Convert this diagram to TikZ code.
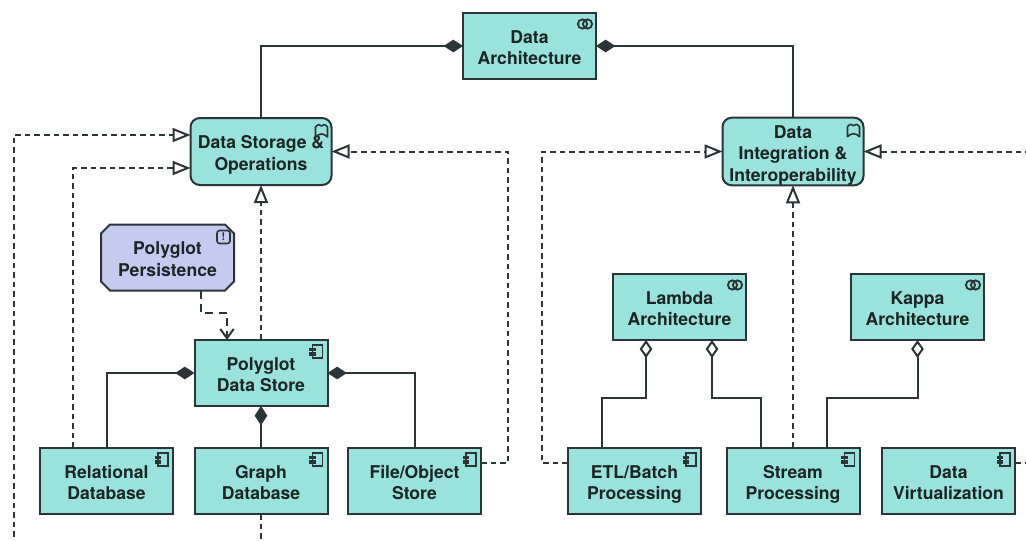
\documentclass[tikz,border=0pt]{standalone}
\usepackage{fontspec}
\setmainfont{TeX Gyre Heros}
\usetikzlibrary{arrows.meta,calc,shapes.misc}
\definecolor{teal}{HTML}{99E3DC}
\definecolor{lav}{HTML}{C5CBEE}
\definecolor{ink}{HTML}{2B3436}
\definecolor{txt}{HTML}{1C2426}
\tikzset{
  elem/.style={draw=ink,line width=1.5pt,fill=teal,minimum width=99.75pt,minimum height=49.5pt,
    inner sep=0pt,outer sep=0pt,align=center,text=txt,font=\fontsize{13.2}{16}\selectfont\bfseries,
    text height=30.75pt,text depth=3pt},
  service/.style={elem,rounded corners=7pt,minimum width=105.75pt,minimum height=50.25pt,text height=31.2pt},
  goal/.style={elem,fill=lav,chamfered rectangle,chamfered rectangle xsep=3.4pt,chamfered rectangle ysep=3.4pt,text height=31.2pt},
  link/.style={draw=ink,line width=1.5pt},
  dash link/.style={link,dash pattern=on 4.2pt off 3pt},
  long dash/.style={link,dash pattern=on 6pt off 4pt},
  comp/.style={{Diamond[length=14.5pt,width=9.5pt]}-},
  aggr/.style={{Diamond[open,fill=white,length=13.5pt,width=9.5pt]}-},
  real/.style={-{Triangle[open,fill=white,length=13.5pt,width=10.5pt]}},
  influ/.style={-{Straight Barb[length=7pt,width=10pt]}},
  icon/.style={draw=ink,line width=1.2pt},
}
\newcommand{\compicon}[1]{%
  \begin{scope}[shift={(#1.north east)}]
    \draw[icon] (-15,5) rectangle (-5,18);
    \fill[ink] (-18.5,7.5) rectangle (-12,10.8);
    \fill[ink] (-18.5,12.3) rectangle (-12,15.6);
  \end{scope}}
\newcommand{\collabicon}[1]{%
  \begin{scope}[shift={(#1.north east)}]
    \draw[icon,line width=1.4pt] (-13.5,11) circle (4.6);
    \draw[icon,line width=1.4pt] (-8.5,11) circle (4.6);
  \end{scope}}
\newcommand{\capicon}[1]{%
  \begin{scope}[shift={(#1.north east)}]
    \draw[icon,line join=round] (-16,19) -- (-16,9) .. controls (-14,6) and (-11,6) .. (-10,8)
      .. controls (-9,6) and (-6,6) .. (-4,9) -- (-4,19) .. controls (-8,15) and (-12,15) .. cycle;
  \end{scope}}
\begin{document}
\begin{tikzpicture}[x=.75pt,y=-.75pt]
\useasboundingbox (0,0) rectangle (1026,540);
\clip (0,0) rectangle (1026,540);
% nodes
\node[elem] (da) at (529.5,46) {Data\\Architecture};
\node[service] (ds) at (261,151.5) {Data Storage \&\\Operations};
\node[service,text height=47.7pt] (di) at (793,151.5) {Data\\Integration \&\\Interoperability};
\node[goal] (pp) at (167.5,257.5) {Polyglot\\Persistence};
\node[elem] (ps) at (261,373) {Polyglot\\Data Store};
\node[elem] (rd) at (106.5,481) {Relational\\Database};
\node[elem] (gd) at (261,481) {Graph\\Database};
\node[elem] (fs) at (414.5,481) {File/Object\\Store};
\node[elem] (la) at (679.5,307) {Lambda\\Architecture};
\node[elem] (ka) at (917.5,307) {Kappa\\Architecture};
\node[elem] (et) at (634.5,481) {ETL/Batch\\Processing};
\node[elem] (sp) at (793,481) {Stream\\Processing};
\node[elem] (dv) at (948.5,481) {Data\\Virtualization};
% icons
\collabicon{da}\collabicon{la}\collabicon{ka}
\capicon{ds}\capicon{di}
\compicon{ps}\compicon{rd}\compicon{gd}\compicon{fs}\compicon{et}\compicon{sp}\compicon{dv}
\coordinate (ppNE) at (pp.north -| pp.east);
\draw[icon,rounded corners=2pt] ($(ppNE)+(-17,6)$) rectangle ($(ppNE)+(-4,19)$);
\node[inner sep=0pt,text=ink,font=\fontsize{8}{8}\selectfont\bfseries] (ppmark) at ($(ppNE)+(-10.5,12.5)$) {!};
% way points
\coordinate (outerBL) at (14,546);
\coordinate (railF) at (508,300);
\coordinate (railE) at (542,300);
\coordinate (railV) at (1040,300);
\coordinate (busL) at (0,398);
\coordinate (busP) at (0,313);
\coordinate (rdTop) at ($(rd.north)+(-33.5,0)$);
\coordinate (dsW1) at ($(ds.west)+(0,-16.5)$);
\coordinate (dsW2) at ($(ds.west)+(0,16.5)$);
\coordinate (fsE) at ($(fs.east)+(0,-18)$);
\coordinate (etW) at ($(et.west)+(0,-18)$);
\coordinate (dvE) at ($(dv.east)+(0,-18)$);
\coordinate (pp1) at ($(pp.south)+(33.5,0)$);
\coordinate (ps1) at ($(ps.north)+(-34,0)$);
\coordinate (la1) at ($(la.south)+(-33.5,0)$);
\coordinate (la2) at ($(la.south)+(32.5,0)$);
\coordinate (et1) at ($(et.north)+(-32.5,0)$);
\coordinate (sp1) at ($(sp.north)+(-32.5,0)$);
\coordinate (sp2) at ($(sp.north)+(33.5,0)$);
% composition
\draw[link,comp] (da.west) -| (ds.north);
\draw[link,comp] (da.east) -| (di.north);
\draw[link,comp] (ps.west) -| (rd.north);
\draw[link,comp] (ps.east) -| (fs.north);
\draw[link,comp] (ps.south) -- (gd.north);
% aggregation
\draw[link,aggr] (la1) -- (la1 |- busL) -| (et1);
\draw[link,aggr] (la2) -- (la2 |- busL) -| (sp1);
\draw[link,aggr] (ka.south) -- (ka.south |- busL) -| (sp2);
% realization
\draw[dash link,real] (ps.north) -- (ds.south);
\draw[dash link,real] (gd.south) |- (outerBL) |- (dsW1);
\draw[dash link,real] (rdTop) |- (dsW2);
\draw[dash link,real] (fsE) -| (railF) |- (ds.east);
\draw[dash link,real] (etW) -| (railE) |- (di.west);
\draw[dash link,real] (sp.north) -- (di.south);
\draw[dash link,real] (dvE) -| (railV) |- (di.east);
% influence
\draw[long dash,influ] (pp1) -- (pp1 |- busP) -| (ps1);
\end{tikzpicture}
\end{document}
